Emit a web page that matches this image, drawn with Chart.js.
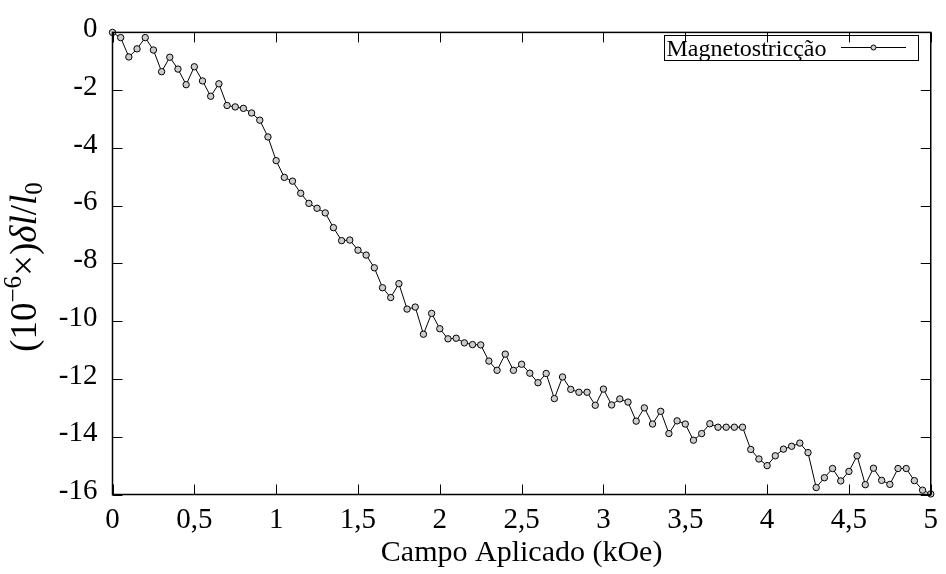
<!DOCTYPE html>
<html>
<head>
<meta charset="utf-8">
<script src="https://cdn.jsdelivr.net/npm/chart.js@4.4.1/dist/chart.umd.min.js"></script>
<style>
  html, body { margin: 0; padding: 0; background: #fff; }
  #wrap { width: 946px; height: 574px; }
</style>
</head>
<body>
<div id="wrap"><canvas id="myChart" width="946" height="574"></canvas></div>
<script>
// applied field (kOe)
const field = [
  0, 0.05, 0.1, 0.15, 0.2, 0.25, 0.3, 0.35, 0.4, 0.45,
  0.5, 0.55, 0.6, 0.65, 0.7, 0.75, 0.8, 0.85, 0.9, 0.95,
  1, 1.05, 1.1, 1.15, 1.2, 1.25, 1.3, 1.35, 1.4, 1.45,
  1.5, 1.55, 1.6, 1.65, 1.7, 1.75, 1.8, 1.85, 1.9, 1.95,
  2, 2.05, 2.1, 2.15, 2.2, 2.25, 2.3, 2.35, 2.4, 2.45,
  2.5, 2.55, 2.6, 2.65, 2.7, 2.75, 2.8, 2.85, 2.9, 2.95,
  3, 3.05, 3.1, 3.15, 3.2, 3.25, 3.3, 3.35, 3.4, 3.45,
  3.5, 3.55, 3.6, 3.65, 3.7, 3.75, 3.8, 3.85, 3.9, 3.95,
  4, 4.05, 4.1, 4.15, 4.2, 4.25, 4.3, 4.35, 4.4, 4.45,
  4.5, 4.55, 4.6, 4.65, 4.7, 4.75, 4.8, 4.85, 4.9, 4.95,
  5,
];

// magnetostriction (10^-6 x dl/l0)
const strain = [
  0, -0.18, -0.85, -0.57, -0.18, -0.61, -1.36, -0.86, -1.27, -1.81,
  -1.19, -1.68, -2.21, -1.78, -2.53, -2.58, -2.63, -2.79, -3.04, -3.62,
  -4.44, -5.02, -5.15, -5.57, -5.92, -6.09, -6.25, -6.76, -7.21, -7.19,
  -7.54, -7.71, -8.15, -8.84, -9.18, -8.70, -9.58, -9.51, -10.45, -9.73,
  -10.26, -10.61, -10.59, -10.75, -10.81, -10.82, -11.38, -11.70, -11.14, -11.70,
  -11.49, -11.80, -12.13, -11.81, -12.68, -11.93, -12.36, -12.46, -12.46, -12.91,
  -12.35, -12.90, -12.69, -12.80, -13.46, -13.00, -13.56, -13.12, -13.89, -13.45,
  -13.56, -14.12, -13.89, -13.55, -13.67, -13.67, -13.67, -13.67, -14.44, -14.77,
  -15.00, -14.66, -14.43, -14.33, -14.22, -14.55, -15.76, -15.42, -15.10, -15.53,
  -15.20, -14.66, -15.66, -15.09, -15.51, -15.65, -15.10, -15.10, -15.52, -15.85,
  -15.98,
];

const xTicks = [0, 0.5, 1, 1.5, 2, 2.5, 3, 3.5, 4, 4.5, 5];
const yTicks = [0, -2, -4, -6, -8, -10, -12, -14, -16];

const seriesName = 'Magnetostricção';
const xTitle = 'Campo Aplicado (kOe)';

const serif = "'Liberation Serif', 'DejaVu Serif', serif";

const points = field.map((f, i) => ({ x: f, y: strain[i] }));

// box, inward ticks on all four sides, y title and gnuplot style key
const framePlugin = {
  id: 'frame',
  afterDatasetsDraw(chart) {
    const { ctx, chartArea: a, scales } = chart;
    const xs = scales.x, ys = scales.y;
    ctx.save();
    ctx.strokeStyle = '#000';
    ctx.lineWidth = 1.5;
    ctx.strokeRect(a.left, a.top, a.right - a.left, a.bottom - a.top);

    ctx.lineWidth = 1;
    ctx.beginPath();
    xTicks.forEach(v => {
      const px = Math.round(xs.getPixelForValue(v)) + 0.5;
      ctx.moveTo(px, a.bottom); ctx.lineTo(px, a.bottom - 10);
      ctx.moveTo(px, a.top); ctx.lineTo(px, a.top + 10);
    });
    yTicks.forEach(v => {
      const py = Math.round(ys.getPixelForValue(v)) + 0.5;
      ctx.moveTo(a.left, py); ctx.lineTo(a.left + 10, py);
      ctx.moveTo(a.right, py); ctx.lineTo(a.right - 10, py);
    });
    ctx.stroke();

    // key
    const kx = 664.5, ky = 35.5, kw = 254, kh = 25;
    ctx.lineWidth = 1;
    ctx.strokeRect(kx, ky, kw, kh);
    ctx.fillStyle = '#000';
    ctx.font = '24px ' + serif;
    ctx.textBaseline = 'alphabetic';
    ctx.textAlign = 'left';
    ctx.fillText(seriesName, kx + 2, ky + 20.5);
    ctx.beginPath();
    ctx.moveTo(841, ky + 12); ctx.lineTo(906, ky + 12);
    ctx.stroke();
    ctx.beginPath();
    ctx.arc(873.5, ky + 12, 2.5, 0, Math.PI * 2);
    ctx.fillStyle = '#ccc';
    ctx.fill();
    ctx.stroke();

    // y title: (10^-6 x) dl/l_0
    const parts = [
      { t: '(10', f: '37px ' + serif, dy: 0 },
      { t: '−6', f: '25px ' + serif, dy: -15 },
      { t: '×)', f: '37px ' + serif, dy: 0 },
      { t: 'δl', f: 'italic 37px ' + serif, dy: 0 },
      { t: '/', f: '37px ' + serif, dy: 0 },
      { t: 'l', f: 'italic 37px ' + serif, dy: 0 },
      { t: '0', f: '25px ' + serif, dy: 6 },
    ];
    let total = 0;
    parts.forEach(p => { ctx.font = p.f; p.w = ctx.measureText(p.t).width; total += p.w; });
    ctx.translate(36, 267);
    ctx.rotate(-Math.PI / 2);
    ctx.fillStyle = '#000';
    let cx = -total / 2;
    parts.forEach(p => {
      ctx.font = p.f;
      ctx.fillText(p.t, cx, p.dy);
      cx += p.w;
    });
    ctx.restore();
  },
};

const ctx = document.getElementById('myChart').getContext('2d');

const config = {
  type: 'line',
  data: {
    datasets: [
      {
        label: seriesName,
        data: points,
        borderColor: '#000',
        borderWidth: 1,
        pointRadius: 3.2,
        pointBorderWidth: 1,
        pointBorderColor: '#000',
        pointBackgroundColor: '#ccc',
        tension: 0,
        fill: false,
        clip: false,
      },
    ],
  },
  options: {
    responsive: false,
    animation: false,
    layout: {
      padding: { top: 25, right: 13.5, left: 0, bottom: 0 },
    },
    plugins: {
      legend: { display: false },
      tooltip: { enabled: false },
    },
    scales: {
      x: {
        type: 'linear',
        min: 0,
        max: 5,
        afterFit: s => { s.height = 79.5; },
        afterBuildTicks: s => { s.ticks = xTicks.map(v => ({ value: v })); },
        grid: { display: false, drawTicks: false },
        border: { display: false },
        ticks: {
          color: '#000',
          font: { family: serif, size: 29 },
          padding: 8,
          maxRotation: 0,
          callback: v => String(v).replace('.', ','),
        },
        title: {
          display: true,
          text: xTitle,
          color: '#000',
          font: { family: serif, size: 30 },
          padding: { top: 0, bottom: 3 },
        },
      },
      y: {
        min: -16,
        max: 0,
        afterFit: s => { s.width = 112.5; },
        afterBuildTicks: s => { s.ticks = yTicks.map(v => ({ value: v })); },
        grid: { display: false, drawTicks: false },
        border: { display: false },
        ticks: {
          color: '#000',
          font: { family: serif, size: 29 },
          padding: 15,
          labelOffset: -3,
          callback: v => String(v),
        },
      },
    },
  },
  plugins: [framePlugin],
};

const myChart = new Chart(ctx, config);
</script>
</body>
</html>
